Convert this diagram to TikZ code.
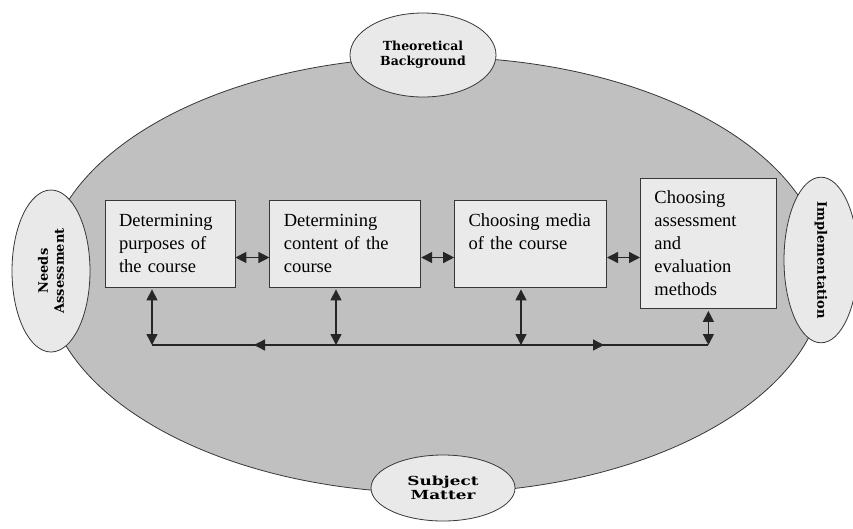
\documentclass[tikz,border=0pt]{standalone}
\usepackage{fontspec}
\setmainfont{Liberation Serif}
\newfontfamily\slabfont{DejaVu Serif}
\newfontfamily\slabwidefont{DejaVu Serif}[FakeStretch=1.35]
\usepackage{tikz}
\usetikzlibrary{arrows.meta, shapes.geometric, positioning}

\definecolor{ringgray}{RGB}{192,192,192}
\definecolor{bubblegray}{RGB}{233,233,233}
\definecolor{boxgray}{RGB}{234,234,234}
\definecolor{edgegray}{RGB}{55,55,55}

\begin{document}
\begin{tikzpicture}[
    x=1pt, y=-1pt,
    node distance=33pt,
    ring/.style={ellipse, draw=edgegray, line width=0.8pt, fill=ringgray,
                 minimum width=780pt, minimum height=436pt, inner sep=0pt},
    bubble/.style={ellipse, draw=edgegray, line width=0.8pt, fill=bubblegray, inner sep=0pt,
                   align=center, font=\slabfont\bfseries\fontsize{12.5}{15}\selectfont},
    stage/.style={rectangle, draw=edgegray, line width=0.8pt, fill=boxgray, align=left,
                  inner xsep=14pt, inner ysep=0pt, font=\fontsize{18.5}{23}\selectfont},
    link/.style={line width=1.4pt, draw=black!85},
    twoway/.style={link, {Triangle[length=11pt,width=11pt]}-{Triangle[length=11pt,width=11pt]}}
]
\useasboundingbox (0,0) rectangle (853,528);

% outer ring and the four surrounding ideas
\node (outer) [ring] at (435,275) {};
\node (theory) [bubble, minimum width=146pt, minimum height=84pt] at (423,55) {Theoretical\\Background};
\node (subject) [bubble, font=\slabwidefont\bfseries\fontsize{12.5}{14}\selectfont,
                 minimum width=144pt, minimum height=66pt] at (443,488) {Subject\\Matter};
\node (needs) [bubble, rotate=90, font=\slabfont\bfseries\fontsize{13}{16}\selectfont,
               minimum width=162pt, minimum height=78pt] at (51,271) {Needs\\Assessment};
\node (implement) [bubble, rotate=-90, font=\slabfont\bfseries\fontsize{13}{16}\selectfont,
                   minimum width=164pt, minimum height=74pt] at (821,260) {Implementation};

% design steps
\node (purpose) [stage, text width=102pt, minimum height=87pt] at (170,243.5) {Determining\\purposes of\\the course};
\node (content) [stage, text width=123pt, minimum height=87pt, right=34pt of purpose] {Determining\\content of the\\course};
\node (media) [stage, text width=124pt, minimum height=87pt, right=of content] {Choosing media\\of the course\\\mbox{}};
\node (assess) [stage, text width=108pt, minimum height=130pt, right=of media] {Choosing\\assessment\\and\\evaluation\\methods};

\draw [twoway] ([yshift=-14pt]purpose.east) -- ([yshift=-14pt]content.west);
\draw [twoway] ([yshift=-14pt]content.east) -- ([yshift=-14pt]media.west);
\draw [twoway] ([yshift=-14pt]media.east) -- ([yshift=-14pt]assess.west);

% feedback bus
\coordinate (busL) at (152,345);
\coordinate (tap2) at (336,345);
\coordinate (tap3) at (521,345);
\coordinate (busR) at (assess.south |- busL);
\coordinate (headL) at (254,345);
\coordinate (headR) at (604,345);

\draw [link] (busL) -- (busR);
\draw [twoway] (headL) -- (headR);
\draw [twoway, shorten <=2pt] (purpose.south -| busL) -- (busL);
\draw [twoway, shorten <=2pt] (content.south -| tap2) -- (tap2);
\draw [twoway, shorten <=2pt] (media.south -| tap3) -- (tap3);
\draw [twoway, shorten <=2pt] (assess.south) -- (busR);

\end{tikzpicture}
\end{document}
